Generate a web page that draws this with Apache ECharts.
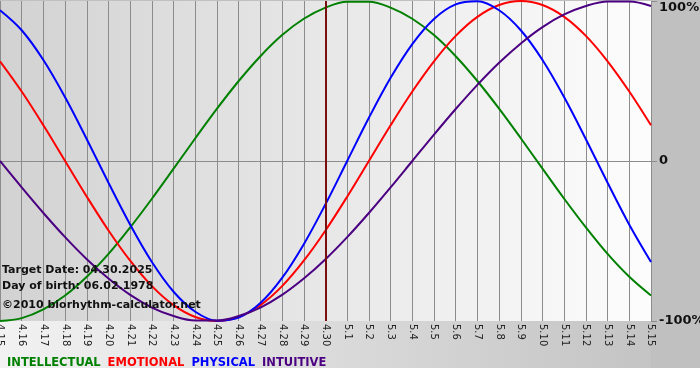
<!DOCTYPE html>
<html><head><meta charset="utf-8">
<script src="https://cdn.jsdelivr.net/npm/echarts@6/dist/echarts.min.js"></script>
<style>html,body{margin:0;padding:0;background:#fff}#c{width:700px;height:380px}</style>
</head><body><div id="c"></div>
<script>
var days = ['4.15','4.16','4.17','4.18','4.19','4.20','4.21','4.22','4.23','4.24','4.25','4.26','4.27','4.28','4.29','4.30',
            '5.1','5.2','5.3','5.4','5.5','5.6','5.7','5.8','5.9','5.10','5.11','5.12','5.13','5.14','5.15'];
var intellectual = [-100,-98.2,-92.8,-84.1,-72.4,-58.1,-41.5,-23.6,-4.8,14.2,32.7,50,65.5,78.7,88.9,95.9,99.5,99.5,95.9,88.9,78.7,65.5,50,32.7,14.2,-4.8,-23.6,-41.5,-58.1,-72.4,-84.1];
var emotional = [62.3,43.4,22.3,0,-22.3,-43.4,-62.3,-78.2,-90.1,-97.5,-100,-97.5,-90.1,-78.2,-62.3,-43.4,-22.3,0,22.3,43.4,62.3,78.2,90.1,97.5,100,97.5,90.1,78.2,62.3,43.4,22.3];
var physical = [94.2,81.7,63.1,39.8,13.6,-13.6,-39.8,-63.1,-81.7,-94.2,-99.8,-97.9,-88.8,-73.1,-52,-27,0,27,52,73.1,88.8,97.9,99.8,94.2,81.7,63.1,39.8,13.6,-13.6,-39.8,-63.1];
var intuitive = [0,-16.5,-32.5,-47.6,-61.4,-73.5,-83.7,-91.6,-96.9,-99.7,-99.7,-96.9,-91.6,-83.7,-73.5,-61.4,-47.6,-32.5,-16.5,0,16.5,32.5,47.6,61.4,73.5,83.7,91.6,96.9,99.7,99.7,96.9];
var yTicks = {'100':'100%','0':'0','-100':'-100%'};
var targetDay = '4.30';
var infoLines = ['Target Date: 04.30.2025','Day of birth: 06.02.1978','\u00a92010 biorhythm-calculator.net'];

var colors = {INTELLECTUAL:'#008000', EMOTIONAL:'#ff0000', PHYSICAL:'#0000ff', INTUITIVE:'#4b0082'};
var font = '"DejaVu Sans", Verdana, sans-serif';
var chart = echarts.init(document.getElementById('c'));
function ser(name, data, extra){
  var s = {name:name, type:'line', data:data, smooth:0.35, symbol:'none',
    lineStyle:{color:colors[name], width:2}, itemStyle:{color:colors[name]}};
  for (var k in extra) s[k] = extra[k];
  return s;
}
chart.setOption({
  animation:false,
  textStyle:{fontFamily:font},
  graphic:[
    {type:'rect', z:-10, shape:{x:0,y:0,width:700,height:368}, style:{fill:'#c0c0c0'}},
    {type:'rect', z:-9, shape:{x:0,y:321,width:651,height:47},
     style:{fill:new echarts.graphic.LinearGradient(0,0,1,0,[{offset:0,color:'#f2f2f2'},{offset:1,color:'#c4c4c4'}])}},
    {type:'text', left:2, top:265, z:50, style:{text:infoLines[0], font:'bold 11px '+font, fill:'#111'}},
    {type:'text', left:2, top:281, z:50, style:{text:infoLines[1], font:'bold 11px '+font, fill:'#111'}},
    {type:'text', left:2, top:300, z:50, style:{text:infoLines[2], font:'bold 11px '+font, fill:'#111'}}
  ],
  legend:{left:-3, top:352, icon:'none', itemWidth:0, itemHeight:0, itemGap:2, selectedMode:false,
    data:Object.keys(colors).map(function(n){return {name:n, textStyle:{color:colors[n]}};}),
    textStyle:{fontFamily:font, fontWeight:'bold', fontSize:11.5, padding:0}},
  grid:{left:0, right:49, top:1, bottom:59, show:true, borderWidth:0, outerBoundsMode:'none', containLabel:false,
    backgroundColor:new echarts.graphic.LinearGradient(0,0,1,0,[{offset:0,color:'#d2d2d2'},{offset:1,color:'#fdfdfd'}])},
  xAxis:{type:'category', data:days, boundaryGap:false,
    axisLine:{show:true, lineStyle:{color:'#8c8c8c', width:1}},
    axisTick:{show:true, length:4, lineStyle:{color:'#8c8c8c'}},
    splitLine:{show:true, lineStyle:{color:'#8c8c8c', width:1}},
    axisLabel:{rotate:-90, fontSize:10, color:'#222', margin:3, fontFamily:font, interval:0}},
  yAxis:{type:'value', position:'right', min:-100, max:100, interval:100,
    axisLine:{show:false},
    axisTick:{show:true, length:6, lineStyle:{color:'#8c8c8c'}},
    splitLine:{show:true, lineStyle:{color:['rgba(0,0,0,0)','#8c8c8c','rgba(0,0,0,0)'], width:1}},
    axisLabel:{formatter:function(v){return yTicks[String(v)];}, fontSize:13, fontWeight:'bold', color:'#111', margin:8, fontFamily:font,
      verticalAlignMaxLabel:'top'}},
  series:[
    ser('INTELLECTUAL', intellectual, {markLine:{silent:true, symbol:'none', label:{show:false},
      lineStyle:{color:'#7a0f0f', width:2, type:'solid'}, data:[{xAxis:targetDay}]}}),
    ser('EMOTIONAL', emotional),
    ser('PHYSICAL', physical),
    ser('INTUITIVE', intuitive)
  ]
});
</script></body></html>
